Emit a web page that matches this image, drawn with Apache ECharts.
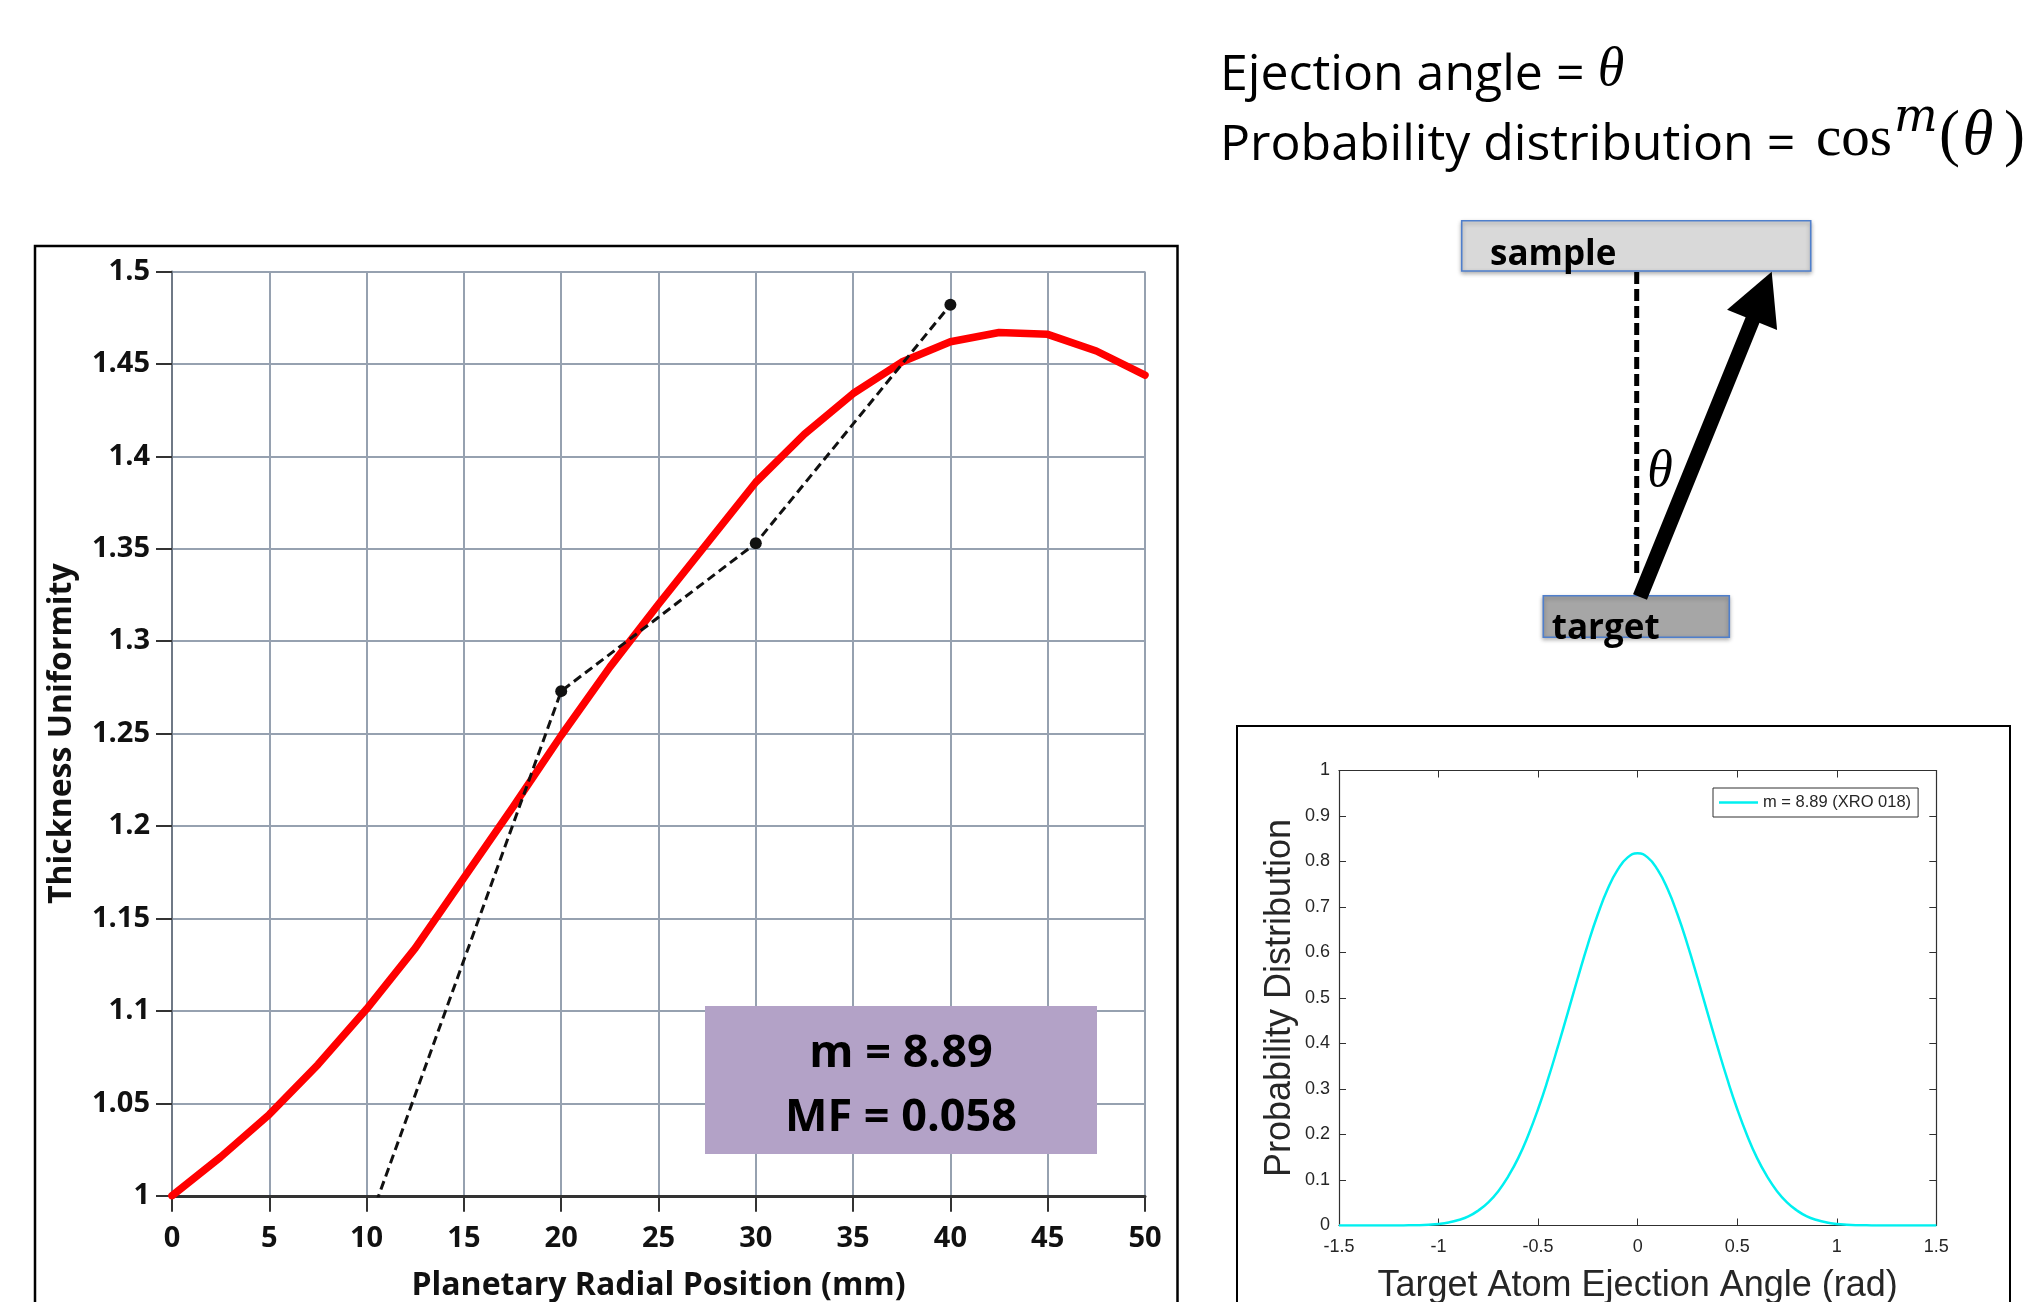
<!DOCTYPE html>
<html><head><meta charset="utf-8">
<script src="https://cdn.jsdelivr.net/npm/echarts@6/dist/echarts.min.js"></script>
<style>html,body{margin:0;padding:0;background:#fff}#c{width:2027px;height:1302px}</style>
</head><body><div id="c"></div><script>
// ---- main chart data ----
const radialPosition = [0, 2.5, 5, 7.5, 10, 12.5, 15, 17.5, 20, 22.5, 25, 27.5, 30, 32.5, 35, 37.5, 40, 42.5, 45, 47.5, 50];
const thicknessUniformity = [1.000, 1.021, 1.044, 1.071, 1.101, 1.134, 1.172, 1.210, 1.249, 1.286, 1.320, 1.353, 1.386, 1.412, 1.434, 1.451, 1.462, 1.467, 1.466, 1.457, 1.444];
const measuredPosition = [10, 20, 30, 40];
const measuredUniformity = [0.982, 1.273, 1.353, 1.482];
const fitLabel = ['m = 8.89', 'MF = 0.058'];
// ---- inset data ----
const ejectionAngle = [-1.5, -1.4, -1.3, -1.2, -1.15, -1.1, -1.05, -1.0, -0.95, -0.9, -0.85, -0.8, -0.75, -0.7, -0.65, -0.6, -0.55, -0.5, -0.45, -0.4, -0.35, -0.3, -0.25, -0.2, -0.15, -0.1, -0.05, 0,
  0.05, 0.1, 0.15, 0.2, 0.25, 0.3, 0.35, 0.4, 0.45, 0.5, 0.55, 0.6, 0.65, 0.7, 0.75, 0.8, 0.85, 0.9, 0.95, 1.0, 1.05, 1.1, 1.15, 1.2, 1.3, 1.4, 1.5];
const probability = [0, 0, 0, 0.0001, 0.0003, 0.0007, 0.0017, 0.0034, 0.0066, 0.012, 0.020, 0.033, 0.051, 0.0755, 0.108, 0.148, 0.198, 0.256, 0.322, 0.394, 0.469, 0.545, 0.618, 0.684, 0.740, 0.782, 0.809, 0.818,
  0.809, 0.782, 0.740, 0.684, 0.618, 0.545, 0.469, 0.394, 0.322, 0.256, 0.198, 0.148, 0.108, 0.0755, 0.051, 0.033, 0.020, 0.012, 0.0066, 0.0034, 0.0017, 0.0007, 0.0003, 0.0001, 0, 0, 0];
const insetSeriesName = 'm = 8.89 (XRO 018)';

const OS = '"Open Sans"', LSe = '"Liberation Serif"', DSe = '"DejaVu Serif"', LSa = '"Liberation Sans"';
const K = {os: 0.27, se: 0.3375, dj: 0.346};
function T(x, base, text, font, size, k, align, extra) {
  return Object.assign({type: 'text', x: x, y: base - k * size, z: 100,
    style: {text: text, font: font, fill: '#000', align: align || 'left', verticalAlign: 'middle'}}, extra || {});
}

const graphics = [
  // frames
  {type: 'rect', z: 100, shape: {x: 35, y: 246, width: 1142.5, height: 1200}, style: {fill: 'none', stroke: '#000', lineWidth: 2.5}},
  {type: 'rect', z: 100, shape: {x: 1237, y: 726, width: 773, height: 700}, style: {fill: 'none', stroke: '#000', lineWidth: 2}},
  // purple annotation box
  {type: 'rect', z: 100, shape: {x: 705, y: 1006, width: 392, height: 148}, style: {fill: '#b3a2c7'}},
  T(901, 1066, fitLabel[0], 'bold 45px ' + OS, 45, K.os, 'center'),
  T(901, 1130, fitLabel[1], 'bold 45px ' + OS, 45, K.os, 'center'),
  // headline text
  T(1220, 89, 'Ejection angle = ', '50px ' + OS, 50, K.os),
  T(1611, 89, 'θ', 'italic 54px ' + LSe, 54, K.se, 'center'),
  T(1220, 159, 'Probability distribution = ', '50px ' + OS, 50, K.os),
  T(1816, 159, 'cos', '57px ' + LSe, 57, K.se),
  T(1894, 135, 'm', 'italic 46px ' + DSe, 46, K.dj),
  T(1939, 159, '(', '63px ' + LSe, 63, K.se),
  T(1978, 159, 'θ', 'italic 63px ' + LSe, 63, K.se, 'center'),
  T(2025, 159, ')', '63px ' + LSe, 63, K.se, 'right'),
  // diagram
  {type: 'rect', z: 100, shape: {x: 1461.7, y: 220.7, width: 349, height: 50.3},
    style: {fill: '#d9d9d9', stroke: '#4f7fcc', lineWidth: 1.6, shadowBlur: 4, shadowOffsetY: 2, shadowColor: 'rgba(0,0,0,0.3)'}},
  T(1490, 264, 'sample', 'bold 35px ' + OS, 35, K.os),
  {type: 'line', z: 100, shape: {x1: 1636.7, y1: 272, x2: 1636.7, y2: 575}, style: {stroke: '#000', lineWidth: 5, lineDash: [12, 5]}},
  {type: 'rect', z: 100, shape: {x: 1543.3, y: 595.7, width: 186, height: 41.6},
    style: {fill: '#a6a6a6', stroke: '#4f7fcc', lineWidth: 1.6, shadowBlur: 4, shadowOffsetY: 2, shadowColor: 'rgba(0,0,0,0.3)'}},
  {type: 'line', z: 101, shape: {x1: 1640, y1: 597, x2: 1755, y2: 314}, style: {stroke: '#000', lineWidth: 15}},
  {type: 'polygon', z: 101, shape: {points: [[1771.7, 271.7], [1727.1, 309.7], [1777.1, 330.1]]}, style: {fill: '#000'}},
  {type: 'text', x: 1660, y: 472, z: 100, style: {text: 'θ', font: 'italic 52px ' + LSe, fill: '#000', align: 'center', verticalAlign: 'middle'}},
  T(1551.7, 638, 'target', 'bold 35px ' + OS, 35, K.os, 'left', {z: 102})
];

const chart = echarts.init(document.getElementById('c'), null, {renderer: 'canvas'});
const mainLabel = {fontFamily: OS, fontWeight: 'bold', fontSize: 29, color: '#111'};
const insetLabel = {fontFamily: LSa, fontSize: 18, color: '#262626'};
const insetLine = {lineStyle: {color: '#303030', width: 1.2}};
chart.setOption({
  animation: false,
  backgroundColor: '#fff',
  grid: [
    {left: 172, top: 271.5, width: 973, height: 924.3, outerBoundsMode: 'none', containLabel: false},
    {left: 1339, top: 770.5, width: 597.3, height: 455, outerBoundsMode: 'none', containLabel: false}
  ],
  legend: {
    data: [insetSeriesName], left: 1713, top: 788, icon: 'rect', itemWidth: 39, itemHeight: 2.5,
    padding: [6, 7, 6, 6], borderColor: '#303030', borderWidth: 1, backgroundColor: '#fff',
    textStyle: {fontFamily: LSa, fontSize: 16.5, color: '#262626'}
  },
  xAxis: [
    {type: 'value', gridIndex: 0, min: 0, max: 50, interval: 5,
      name: 'Planetary Radial Position (mm)', nameLocation: 'middle', nameGap: 74,
      nameTextStyle: {fontFamily: OS, fontWeight: 'bold', fontSize: 32, color: '#111'},
      axisLine: {onZero: false, lineStyle: {color: '#333', width: 3}},
      axisTick: {show: true, length: 16, lineStyle: {color: '#333', width: 2}},
      axisLabel: Object.assign({margin: 28}, mainLabel),
      splitLine: {show: true, lineStyle: {color: '#96a1b0', width: 2}}},
    {type: 'value', gridIndex: 1, min: -1.5, max: 1.5, interval: 0.5,
      name: 'Target Atom Ejection Angle (rad)', nameLocation: 'middle', nameGap: 43,
      nameTextStyle: {fontFamily: LSa, fontSize: 36, color: '#262626'},
      axisLine: Object.assign({onZero: false}, insetLine),
      axisTick: {inside: true, length: 7, lineStyle: {color: '#303030'}},
      axisLabel: Object.assign({margin: 13}, insetLabel),
      splitLine: {show: false}},
    {type: 'value', gridIndex: 1, position: 'top', min: -1.5, max: 1.5, interval: 0.5,
      axisLine: Object.assign({onZero: false}, insetLine),
      axisTick: {inside: true, length: 7, lineStyle: {color: '#303030'}},
      axisLabel: {show: false}, splitLine: {show: false}}
  ],
  yAxis: [
    {type: 'value', gridIndex: 0, min: 1, max: 1.5, interval: 0.05,
      name: 'Thickness Uniformity', nameLocation: 'middle', nameGap: 94,
      nameTextStyle: {fontFamily: OS, fontWeight: 'bold', fontSize: 32, color: '#111'},
      axisLine: {show: true, onZero: false, lineStyle: {color: '#6f7986', width: 2}},
      axisTick: {show: true, length: 16, lineStyle: {color: '#333', width: 2}},
      axisLabel: Object.assign({margin: 22}, mainLabel),
      splitLine: {show: true, lineStyle: {color: '#96a1b0', width: 2}}},
    {type: 'value', gridIndex: 1, min: 0, max: 1, interval: 0.1,
      name: 'Probability Distribution', nameLocation: 'middle', nameGap: 41,
      nameTextStyle: {fontFamily: LSa, fontSize: 36, color: '#262626'},
      axisLine: Object.assign({show: true, onZero: false}, insetLine),
      axisTick: {show: true, inside: true, length: 7, lineStyle: {color: '#303030'}},
      axisLabel: Object.assign({margin: 9}, insetLabel),
      splitLine: {show: false}},
    {type: 'value', gridIndex: 1, position: 'right', min: 0, max: 1, interval: 0.1,
      axisLine: Object.assign({show: true, onZero: false}, insetLine),
      axisTick: {show: true, inside: true, length: 7, lineStyle: {color: '#303030'}},
      axisLabel: {show: false}, splitLine: {show: false}}
  ],
  series: [
    {type: 'line', xAxisIndex: 0, yAxisIndex: 0, z: 3, showSymbol: false, symbol: 'none',
      data: radialPosition.map((x, i) => [x, thicknessUniformity[i]]),
      lineStyle: {color: '#ff0000', width: 7.5, join: 'round', cap: 'round'}},
    {type: 'line', xAxisIndex: 0, yAxisIndex: 0, z: 4, clip: true, symbol: 'circle', symbolSize: 12,
      data: measuredPosition.map((x, i) => i === 0 ? {value: [x, measuredUniformity[i]], symbol: 'none'} : [x, measuredUniformity[i]]),
      itemStyle: {color: '#111'}, lineStyle: {color: '#111', width: 3, type: [9, 5]}},
    {type: 'line', name: insetSeriesName, xAxisIndex: 1, yAxisIndex: 1, smooth: true, showSymbol: false, symbol: 'none',
      data: ejectionAngle.map((x, i) => [x, probability[i]]),
      itemStyle: {color: '#00f0f0'}, lineStyle: {color: '#00f0f0', width: 2.5}}
  ],
  graphic: graphics
});
</script></body></html>
